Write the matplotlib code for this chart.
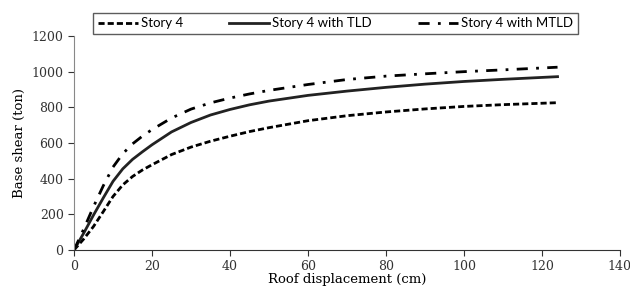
import matplotlib
matplotlib.use("Agg")
import matplotlib.pyplot as plt

disp = [0, 2.5, 5, 7.5, 10, 12.5, 15, 17.5, 20, 25, 30, 35, 40, 45, 50, 60, 70, 80, 90, 100, 110, 124]
story4 = [0, 62, 132, 215, 300, 365, 412, 448, 478, 535, 577, 610, 638, 664, 686, 725, 753, 774, 791, 805, 815, 826]
story4_tld = [0, 95, 196, 292, 385, 455, 508, 550, 590, 662, 715, 757, 788, 814, 835, 867, 891, 912, 930, 945, 957, 972]
story4_mtld = [0, 118, 243, 360, 465, 540, 595, 638, 675, 740, 790, 825, 852, 875, 895, 928, 956, 975, 988, 1000, 1010, 1025]
labels = ["Story 4", "Story 4 with TLD", "Story 4 with MTLD"]

fig = plt.figure(figsize=(6.3, 2.88), dpi=100)
ax = fig.add_axes([0.1175, 0.132, 0.8665, 0.743])

lw = 2.0
l1, = ax.plot(disp, story4, color="black", lw=lw, linestyle=(0, (2.2, 1.1)), label=labels[0])
l2, = ax.plot(disp, story4_tld, color="#222222", lw=lw, linestyle="-", label=labels[1])
l3, = ax.plot(disp, story4_mtld, color="black", lw=lw, linestyle=(0, (4, 3, 1, 3)), label=labels[2])

ax.set_xlim(0, 140)
ax.set_ylim(0, 1200)
ax.set_xticks(range(0, 141, 20))
ax.set_yticks(range(0, 1201, 200))
for s in ["top", "right"]:
    ax.spines[s].set_visible(False)
ax.spines["left"].set_color("#888888")
ax.spines["bottom"].set_color("#333333")
ax.tick_params(axis="both", direction="out", length=4, colors="#333333")
for lab in ax.get_xticklabels() + ax.get_yticklabels():
    lab.set_family("DejaVu Serif")
    lab.set_fontsize(9)
ax.set_xlabel("Roof displacement (cm)", family="DejaVu Serif", fontsize=9.5, labelpad=0)
ax.set_ylabel("Base shear (ton)", family="DejaVu Serif", fontsize=9.5, labelpad=4)

leg = fig.legend(handles=[l1, l2, l3], loc="center", bbox_to_anchor=(0.5325, 0.919),
                 ncol=3, frameon=True, fancybox=False, handlelength=3.0,
                 handletextpad=0.25, borderpad=0.35, borderaxespad=0, columnspacing=3.5,
                 prop={"family": "Lato", "size": 9.5})
leg.get_frame().set_edgecolor("#333333")
leg.get_frame().set_linewidth(1.0)

fig.savefig("out.png", dpi=100)
